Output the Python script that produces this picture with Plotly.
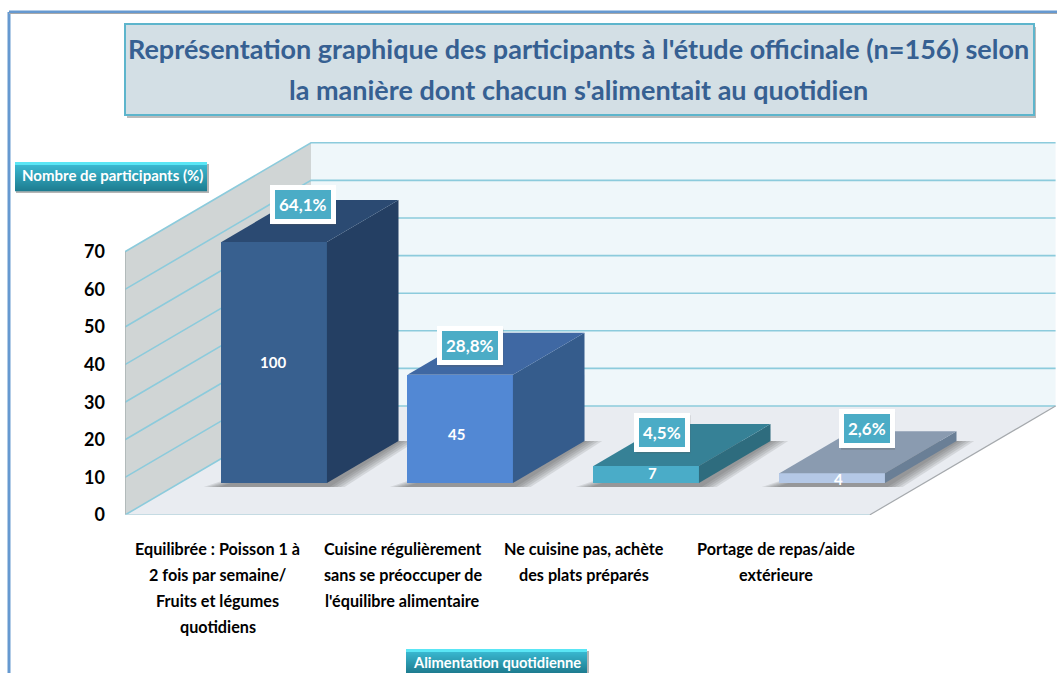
import plotly.graph_objects as go

# ---- data ----
category_lines = [
    ["Equilibrée : Poisson 1 à", "2 fois par semaine/", "Fruits et légumes", "quotidiens"],
    ["Cuisine régulièrement", "sans se préoccuper de", "l'équilibre alimentaire"],
    ["Ne cuisine pas, achète", "des plats préparés"],
    ["Portage de repas/aide", "extérieure"],
]
percent_values = [64.1, 28.8, 4.5, 2.6]
percent_labels = ["64,1%", "28,8%", "4,5%", "2,6%"]
count_labels = ["100", "45", "7", "4"]
y_ticks = [0, 10, 20, 30, 40, 50, 60, 70]
title_lines = ["Représentation graphique des participants à l'étude officinale (n=156) selon",
               "la manière dont chacun s'alimentait au quotidien"]
y_title = "Nombre de participants (%)"
x_title = "Alimentation quotidienne"

# ---- style / layout constants ----
W, H = 1057, 673
FONT = "Lato"
FRONT = ["#38608f", "#5288d4", "#4aacc8", "#b4c8e6"]
SIDE = ["#243f63", "#355c8c", "#2e6c7e", "#6a7f96"]
TOP = ["#2b4a72", "#3f68a3", "#368196", "#8a9bb0"]
GRID = "#8ccbdc"
PX_X = 186.0            # pixels per category unit
PX_Y = 3.76             # pixels per value unit
ZERO_Y = 515            # pixel row of value 0
LEFT_X = 125
CAT0_X = 219.5
X_RANGE = [(LEFT_X - CAT0_X) / PX_X, (W - CAT0_X) / PX_X]
TOP_Y = 130
Y_RANGE = [0, (ZERO_Y - TOP_Y) / PX_Y]
LIFT = 109 / PX_Y       # value units of rise for the full floor depth
DEPTH_X = 1.0           # category units of shift for the full floor depth
D0, D1 = 0.294, 0.679   # front and back of the bars as a share of floor depth
BAR_W = 0.567
FLOOR_R = 3.495
LAB_DX = [81.5, 63, 69, 87.6]
LAB_DY = [-37.7, -29, -33.7, -44.4]
CNT_DX = [-1, -4, 6, 6]
CNT_DY = [0, 5, -1, 1]
CAT_CX = [-0.009, 0.985, 1.96, 2.99]


def pr(x, v, d):
    """Project (category position, value, depth share) to axis coordinates."""
    return x + d * DEPTH_X, v + d * LIFT


def px(x):
    return x / W


def py(y):
    return 1 - y / H


def path(pts):
    return "M " + " L ".join(f"{a:.4f} {b:.4f}" for a, b in pts) + " Z"


xl = X_RANGE[0] + 0.0
shapes = []
# page frame
shapes.append(dict(type="line", xref="paper", yref="paper", x0=px(9), x1=px(9), y0=py(12), y1=0,
                   line=dict(color="#6699d0", width=3), layer="below"))
shapes.append(dict(type="line", xref="paper", yref="paper", x0=px(9), x1=1, y0=py(12), y1=py(12),
                   line=dict(color="#6699d0", width=3), layer="below"))
shapes.append(dict(type="line", xref="paper", yref="paper", x0=px(9), x1=1, y0=py(13.5), y1=py(13.5),
                   line=dict(color="#a8a8a8", width=1), layer="below"))

vmax = y_ticks[-1]
# back wall, left wall, floor
back = [pr(xl, 0, 1), pr(xl, vmax, 1), pr(FLOOR_R, vmax, 1), pr(FLOOR_R, 0, 1)]
left = [pr(xl, 0, 0), pr(xl, vmax, 0), pr(xl, vmax, 1), pr(xl, 0, 1)]
floor = [pr(xl, 0, 0), pr(xl, 0, 1), pr(FLOOR_R, 0, 1), pr(FLOOR_R, 0, 0)]
for pts, col in [(back, "#eff7fa"), (left, "#d0d5d5"), (floor, "#e9ecf1")]:
    shapes.append(dict(type="path", xref="x", yref="y", path=path(pts), fillcolor=col,
                       line=dict(width=0), layer="below"))
# wall edges and gridlines
for v in y_ticks:
    pts = [pr(xl, v, 0), pr(xl, v, 1), pr(FLOOR_R, v, 1)]
    shapes.append(dict(type="path", xref="x", yref="y",
                       path="M " + " L ".join(f"{a:.4f} {b:.4f}" for a, b in pts),
                       line=dict(color=GRID, width=1.6), layer="below"))
shapes.append(dict(type="line", xref="x", yref="y", x0=xl, x1=xl, y0=0, y1=vmax,
                   line=dict(color="#a9b0b0", width=1.5), layer="below"))
a, b = pr(FLOOR_R, 0, 0), pr(FLOOR_R, 0, 1)
shapes.append(dict(type="line", xref="x", yref="y", x0=a[0], y0=a[1], x1=b[0], y1=b[1],
                   line=dict(color="#a5a9ad", width=1.2), layer="below"))
a = pr(xl, 0, 0)
shapes.append(dict(type="line", xref="x", yref="y", x0=a[0], y0=a[1], x1=FLOOR_R, y1=a[1],
                   line=dict(color="#b9d6de", width=1.6), layer="below"))

# soft bar shadows on the floor
for i in range(len(percent_values)):
    for grow in (0.095, 0.075, 0.055, 0.035, 0.015):
        x0, x1 = i - BAR_W / 2 - grow, i + BAR_W / 2 + grow
        pts = [pr(x0, -1.1, D0), pr(x1, -1.1, D0), pr(x1, 0, D1), pr(x0 + 0.35, 0, D1)]
        shapes.append(dict(type="path", xref="x", yref="y", path=path(pts),
                           fillcolor="rgba(70,70,70,0.13)", line=dict(width=0), layer="below"))


def gradient_box(x0, x1, y0, y1, top_rgb, bot_rgb):
    n = int(y1 - y0)
    shapes.append(dict(type="rect", xref="paper", yref="paper", x0=px(x0 + 1), x1=px(x1 + 2),
                       y0=py(y0 + 2), y1=py(min(y1 + 2, H)), fillcolor="rgba(90,90,90,0.45)",
                       line=dict(width=0), layer="above"))
    for k in range(n):
        t = k / max(n - 1, 1)
        c = [round(p + (q - p) * t) for p, q in zip(top_rgb, bot_rgb)]
        if k < 3:
            c = [90, 230, 245]
        shapes.append(dict(type="rect", xref="paper", yref="paper", x0=px(x0), x1=px(x1),
                           y0=py(y0 + k), y1=py(min(y0 + k + 1.2, H)), fillcolor=f"rgb({c[0]},{c[1]},{c[2]})",
                           line=dict(width=0), layer="above"))


# title box
shapes.append(dict(type="rect", xref="paper", yref="paper", x0=px(127), x1=px(1036), y0=py(27), y1=py(118),
                   fillcolor="rgba(120,120,120,0.5)", line=dict(width=0), layer="above"))
shapes.append(dict(type="rect", xref="paper", yref="paper", x0=px(125), x1=px(1034), y0=py(24), y1=py(115),
                   fillcolor="#d3dfe5", line=dict(color="#5db5cc", width=2), layer="above"))
gradient_box(15, 207, 162, 191, (60, 190, 215), (30, 125, 145))
gradient_box(406, 587, 649, 673, (60, 190, 215), (30, 125, 145))

fig = go.Figure()
# front faces
fig.add_trace(go.Bar(
    x=[pr(i, 0, D0)[0] for i in range(len(percent_values))],
    y=percent_values,
    base=[pr(i, 0, D0)[1] for i in range(len(percent_values))],
    width=BAR_W,
    marker=dict(color=FRONT, line=dict(width=0)),
    hoverinfo="skip", showlegend=False,
))
# side and top faces
for i, v in enumerate(percent_values):
    xa, xb = i - BAR_W / 2, i + BAR_W / 2
    side = [pr(xb, 0, D0), pr(xb, v, D0), pr(xb, v, D1), pr(xb, 0, D1)]
    top = [pr(xa, v, D0), pr(xb, v, D0), pr(xb, v, D1), pr(xa, v, D1)]
    for pts, col in [(side, SIDE[i]), (top, TOP[i])]:
        fig.add_trace(go.Scatter(
            x=[p[0] for p in pts] + [pts[0][0]],
            y=[p[1] for p in pts] + [pts[0][1]],
            mode="lines", fill="toself", fillcolor=col, line=dict(width=0),
            hoverinfo="skip", showlegend=False,
        ))

CENTER = dict(showarrow=False, xanchor="center", yanchor="middle")
annotations = []
# title lines
for t, yc in zip(title_lines, (49, 90)):
    annotations.append(dict(text=f"<b>{t}</b>", xref="paper", yref="paper", x=px(578), y=py(yc), **CENTER,
                            font=dict(family=FONT, size=27, color="#366092")))
# axis titles
annotations.append(dict(text=f"<b>{y_title}</b>", xref="paper", yref="paper", x=px(112), y=py(175), **CENTER,
                        font=dict(family=FONT, size=15, color="white")))
annotations.append(dict(text=f"<b>{x_title}</b>", xref="paper", yref="paper", x=px(497), y=py(662), **CENTER,
                        font=dict(family=FONT, size=14.7, color="white")))
# category labels, one annotation per line
for i, lines in enumerate(category_lines):
    for j, line in enumerate(lines):
        annotations.append(dict(text=f"<b>{line}</b>", xref="x", yref="paper", x=CAT_CX[i],
                                y=py(548.5 + 25.9 * j), **CENTER,
                                font=dict(family=FONT, size=16.2, color="#000000")))
# value boxes and counts
for i, v in enumerate(percent_values):
    fx, fy = pr(i - BAR_W / 2, v, D0)
    # drop shadow of the value box, placed from the same projected bar corner
    sx = LEFT_X + (fx - X_RANGE[0]) * PX_X + LAB_DX[i]
    sy = ZERO_Y - fy * PX_Y + LAB_DY[i]
    half_w = 32 if len(percent_labels[i]) > 4 else 27
    shapes.append(dict(type="rect", xref="paper", yref="paper", x0=px(sx - half_w + 1), x1=px(sx + half_w + 1),
                       y0=py(sy - 17), y1=py(sy + 21), fillcolor="rgba(90,90,90,0.3)",
                       line=dict(width=0), layer="above"))
    annotations.append(dict(text=f"<b>{percent_labels[i]}</b>", xref="x", yref="y", x=fx, y=fy,
                            xshift=LAB_DX[i], yshift=-LAB_DY[i], **CENTER,
                            bgcolor="#4bacc6", bordercolor="white", borderwidth=5, borderpad=4,
                            font=dict(family=FONT, size=17, color="white")))
    cx, cy = pr(i, v / 2, D0)
    annotations.append(dict(text=f"<b>{count_labels[i]}</b>", xref="x", yref="y", x=cx, y=cy,
                            xshift=CNT_DX[i], yshift=-CNT_DY[i], **CENTER,
                            font=dict(family=FONT, size=15, color="white")))

fig.update_layout(
    width=W, height=H, autosize=False,
    margin=dict(l=0, r=0, t=0, b=0, pad=0, autoexpand=False),
    paper_bgcolor="white", plot_bgcolor="rgba(0,0,0,0)",
    bargap=0, showlegend=False,
    xaxis=dict(domain=[LEFT_X / W, 1], range=X_RANGE, showgrid=False, zeroline=False,
               showticklabels=False, ticks="", showline=False, fixedrange=True, automargin=False),
    yaxis=dict(domain=[py(ZERO_Y), py(TOP_Y)], range=Y_RANGE, showgrid=False, zeroline=False,
               tickvals=y_ticks, ticktext=[f"<b>{t}</b>" for t in y_ticks],
               tickfont=dict(family=FONT, size=18, color="black"),
               ticks="", ticklabelstandoff=19, showline=False, fixedrange=True, automargin=False),
    shapes=shapes, annotations=annotations,
)
fig.write_html("out.html", config=dict(displayModeBar=False),
               post_script="document.body.style.margin='0';document.documentElement.style.overflow='hidden';")
